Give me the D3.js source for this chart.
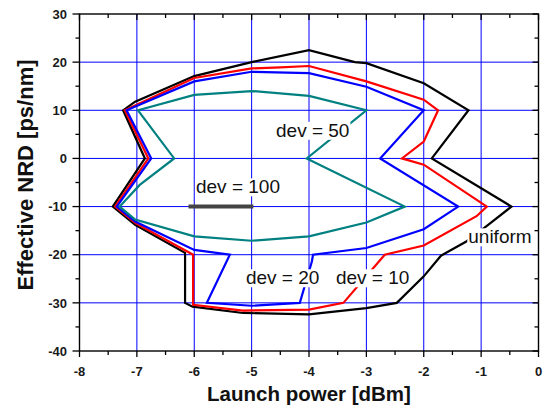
<!DOCTYPE html>
<html>
<head>
<meta charset="utf-8">
<script src="https://cdn.jsdelivr.net/npm/d3@7"></script>
<style>
  body { margin: 0; background: #fff; }
  svg { display: block; }
</style>
</head>
<body>
<svg id="chart" width="545" height="412"></svg>
<script>
// Axis ticks
const xTicks = [-8, -7, -6, -5, -4, -3, -2, -1, 0];
const yTicks = [-40, -30, -20, -10, 0, 10, 20, 30];

// Closed contours: launch power [dBm] vs effective NRD [ps/nm]
const uniformPower = [-7.24, -7.03, -6.0, -5.0, -4.0, -3.2, -3.0, -2.0, -1.22, -1.86, -0.47, -0.9, -1.25, -1.7, -2.0, -2.47, -3.0, -4.0, -5.15, -6.03, -6.16, -6.16, -7.03, -7.42, -6.86];
const uniformNRD   = [10, 11.8, 17.1, 20, 22.5, 20, 19.8, 15.6, 10, 0, -10, -14, -17.2, -20.2, -24.5, -30, -31.1, -32.4, -32.1, -30.8, -30, -19.6, -13.8, -10, 0];

const dev10Power = [-7.21, -6.0, -5.0, -4.5, -4.0, -3.0, -2.0, -1.75, -2.0, -2.38, -2.0, -0.9, -1.08, -2.0, -2.68, -3.4, -4.0, -5.15, -6.02, -6.02, -7.03, -7.38, -6.8];
const dev10NRD   = [10, 16.7, 18.7, 18.9, 19.2, 16.0, 12.2, 10, 3.5, 0, -1.3, -10, -12, -18.1, -20, -30, -31.4, -31.6, -30.4, -20, -13.4, -10, 0];

const dev20Power = [-7.18, -6.0, -5.0, -4.0, -3.0, -2.0, -2.76, -1.4, -2.0, -3.0, -3.93, -3.95, -4.16, -5.0, -5.78, -5.38, -6.0, -7.03, -7.35, -6.75];
const dev20NRD   = [10, 16.0, 18.0, 17.7, 14.9, 10, 0, -10, -14.7, -18.6, -20, -21.4, -30, -30.6, -30, -20, -19, -13.1, -10, 0];

const dev50Power = [-6.98, -6.0, -5.0, -4.0, -3.0, -4.04, -2.33, -3.0, -4.0, -5.0, -6.0, -7.03, -7.3, -6.95, -6.35];
const dev50NRD   = [10, 13.2, 14.0, 13.0, 10, 0, -10, -13.3, -16.2, -17.1, -16.2, -12.7, -10, -5.5, 0];

const dev100Power = [-6.1, -4.97];
const dev100NRD   = [-10, -10];

// Text annotations, anchored in data coordinates (left end of the baseline)
const annotations = [
  { text: "dev = 100", power: -5.97, nrd: -7.25 },
  { text: "dev = 50",  power: -4.575, nrd: 4.5 },
  { text: "dev = 20",  power: -5.10, nrd: -26.14 },
  { text: "dev = 10",  power: -3.53, nrd: -26.14 },
  { text: "uniform",   power: -1.224, nrd: -17.63 }
];

const FONT = "'Liberation Sans', Arial, Helvetica, sans-serif";
const plot = { left: 79.5, right: 538.5, top: 14, bottom: 351 };

const svg = d3.select("#chart");
const x = d3.scaleLinear().domain([-8, 0]).range([plot.left, plot.right]);
const y = d3.scaleLinear().domain([-40, 30]).range([plot.bottom, plot.top]);

// Grid
const grid = svg.append("g");
grid.selectAll("line.gx").data(xTicks.slice(1, -1)).join("line")
  .attr("x1", d => x(d)).attr("x2", d => x(d))
  .attr("y1", plot.top).attr("y2", plot.bottom)
  .attr("stroke", "#0000ff").attr("stroke-width", 1);
grid.selectAll("line.gy").data(yTicks.slice(1, -1)).join("line")
  .attr("y1", d => y(d)).attr("y2", d => y(d))
  .attr("x1", plot.left).attr("x2", plot.right)
  .attr("stroke", "#0000ff").attr("stroke-width", 1);

// Contours
const series = [
  { p: uniformPower, n: uniformNRD, color: "#000000", w: 2.2, closed: true },
  { p: dev10Power,   n: dev10NRD,   color: "#ff0000", w: 2.2, closed: true },
  { p: dev20Power,   n: dev20NRD,   color: "#0000ff", w: 2.2, closed: true },
  { p: dev50Power,   n: dev50NRD,   color: "#008080", w: 2.2, closed: true },
  { p: dev100Power,  n: dev100NRD,  color: "#444444", w: 4,   closed: false }
];
const lineGen = (closed) => d3.line()
  .x(d => x(d[0])).y(d => y(d[1]))
  .curve(closed ? d3.curveLinearClosed : d3.curveLinear);

svg.append("g").selectAll("path").data(series).join("path")
  .attr("d", s => lineGen(s.closed)(s.p.map((v, i) => [v, s.n[i]])))
  .attr("fill", "none")
  .attr("stroke", s => s.color)
  .attr("stroke-width", s => s.w)
  .attr("stroke-linejoin", "miter");

// Annotations with white boxes behind the text
const labelSize = 19;
const labels = svg.append("g");
annotations.forEach(a => {
  const g = labels.append("g");
  const t = g.append("text")
    .attr("x", x(a.power)).attr("y", y(a.nrd))
    .attr("font-family", FONT).attr("font-size", labelSize)
    .attr("fill", "#111")
    .text(a.text);
  const bb = t.node().getBBox();
  g.insert("rect", "text")
    .attr("x", bb.x - 1).attr("y", bb.y + 2)
    .attr("width", bb.width + 2).attr("height", bb.height - 3)
    .attr("fill", "#fff");
});

// Frame
svg.append("rect")
  .attr("x", plot.left).attr("y", plot.top)
  .attr("width", plot.right - plot.left).attr("height", plot.bottom - plot.top)
  .attr("fill", "none").attr("stroke", "#000").attr("stroke-width", 1.4);

// Ticks
const ticks = svg.append("g").attr("stroke", "#000").attr("stroke-width", 1.3);
const xMinor = d3.range(-7.5, 0, 1);
const yMinor = d3.range(-35, 30, 10);
// bottom (outward)
xTicks.forEach(v => ticks.append("line").attr("x1", x(v)).attr("x2", x(v)).attr("y1", plot.bottom).attr("y2", plot.bottom + 6));
xMinor.forEach(v => ticks.append("line").attr("x1", x(v)).attr("x2", x(v)).attr("y1", plot.bottom).attr("y2", plot.bottom + 4));
// top (inward)
xTicks.forEach(v => ticks.append("line").attr("x1", x(v)).attr("x2", x(v)).attr("y1", plot.top).attr("y2", plot.top + 6));
xMinor.forEach(v => ticks.append("line").attr("x1", x(v)).attr("x2", x(v)).attr("y1", plot.top).attr("y2", plot.top + 4));
// left (outward)
yTicks.forEach(v => ticks.append("line").attr("y1", y(v)).attr("y2", y(v)).attr("x1", plot.left - 7).attr("x2", plot.left));
yMinor.forEach(v => ticks.append("line").attr("y1", y(v)).attr("y2", y(v)).attr("x1", plot.left - 4).attr("x2", plot.left));
// right (inward)
yTicks.forEach(v => ticks.append("line").attr("y1", y(v)).attr("y2", y(v)).attr("x1", plot.right - 6).attr("x2", plot.right));
yMinor.forEach(v => ticks.append("line").attr("y1", y(v)).attr("y2", y(v)).attr("x1", plot.right - 4).attr("x2", plot.right));

// Tick labels (plain hyphen for negatives)
svg.append("g").selectAll("text").data(xTicks).join("text")
  .attr("x", d => x(d)).attr("y", 375.5)
  .attr("text-anchor", "middle")
  .attr("font-family", FONT).attr("font-weight", "bold").attr("font-size", 13)
  .attr("fill", "#1a1a1a")
  .text(d => String(d));
svg.append("g").selectAll("text").data(yTicks).join("text")
  .attr("x", 67).attr("y", d => y(d) + 4.7)
  .attr("text-anchor", "end")
  .attr("font-family", FONT).attr("font-weight", "bold").attr("font-size", 13)
  .attr("fill", "#1a1a1a")
  .text(d => String(d));

// Axis titles
svg.append("text")
  .attr("x", (plot.left + plot.right) / 2).attr("y", 401)
  .attr("text-anchor", "middle")
  .attr("font-family", FONT).attr("font-weight", "bold").attr("font-size", 20.5)
  .attr("fill", "#111")
  .text("Launch power [dBm]");
svg.append("text")
  .attr("transform", "translate(33,175) rotate(-90)")
  .attr("text-anchor", "middle")
  .attr("font-family", FONT).attr("font-weight", "bold").attr("font-size", 22)
  .attr("fill", "#111")
  .text("Effective NRD [ps/nm]");
</script>
</body>
</html>
